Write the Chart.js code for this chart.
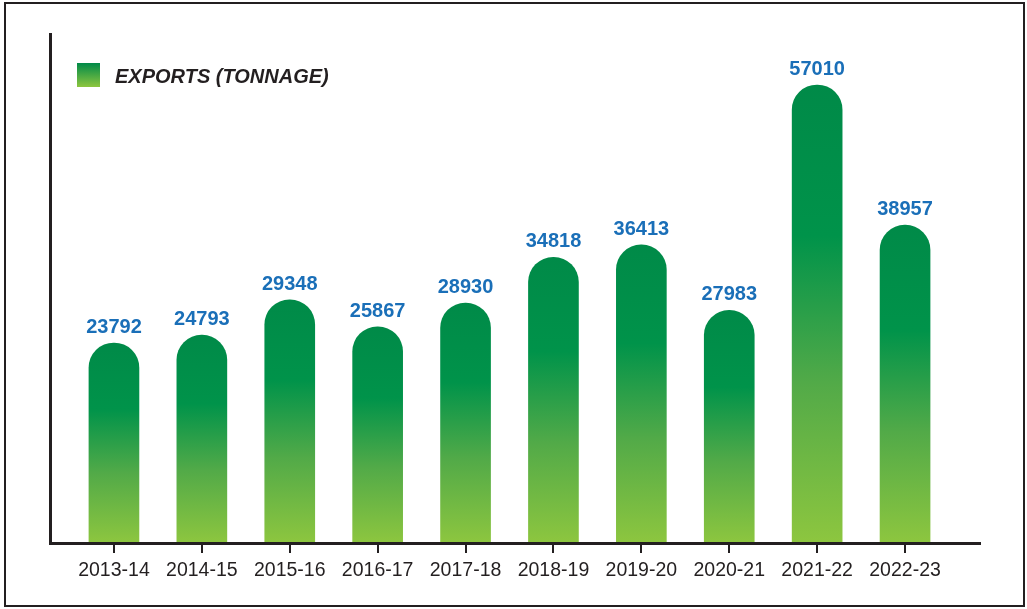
<!DOCTYPE html>
<html lang="en">
<head>
  <meta charset="UTF-8" />
  <title>Exports (Tonnage)</title>
  <script src="https://cdn.jsdelivr.net/npm/chart.js"></script>
  <style>
    html, body { margin: 0; padding: 0; background: #fff; }
    #wrap { position: relative; width: 1027px; height: 609px; }
  </style>
</head>
<body>
  <div id="wrap"><canvas id="exportsChart" width="1027" height="609"></canvas></div>

  <script>
    // Data
    const years = ['2013-14', '2014-15', '2015-16', '2016-17', '2017-18',
                   '2018-19', '2019-20', '2020-21', '2021-22', '2022-23'];
    const exportsTonnage = [23792, 24793, 29348, 25867, 28930, 34818, 36413, 27983, 57010, 38957];
    const seriesLabel = 'EXPORTS (TONNAGE)';

    const Y_MIN = -1960;
    const Y_MAX = 63700;
    const INK = '#231f20';
    const DARK_GREEN = '#008a48';
    const MID_GREEN = '#00934a';
    const LIGHT_GREEN = '#8dc63f';

    // per-bar vertical gradient (dark top -> light bottom)
    function barGradient(ctx) {
      const chart = ctx.chart;
      if (!chart.chartArea || !chart.scales.y) return DARK_GREEN;
      const yScale = chart.scales.y;
      const top = yScale.getPixelForValue(ctx.raw);
      const bottom = yScale.getPixelForValue(Y_MIN);
      const g = chart.ctx.createLinearGradient(0, top, 0, bottom);
      g.addColorStop(0, DARK_GREEN);
      g.addColorStop(0.33, MID_GREEN);
      g.addColorStop(0.65, '#52aa48');
      g.addColorStop(1, LIGHT_GREEN);
      return g;
    }

    // outer frame, axis lines, value labels, legend
    const decorPlugin = {
      id: 'decor',
      beforeDraw(chart) {
        const c = chart.ctx;
        c.save();
        c.strokeStyle = INK;
        c.lineWidth = 2;
        c.strokeRect(5, 3, 1019, 603);
        c.restore();
      },
      afterDatasetsDraw(chart) {
        const c = chart.ctx;
        const area = chart.chartArea;
        c.save();
        // axes
        c.strokeStyle = INK;
        c.lineWidth = 3;
        c.beginPath();
        c.moveTo(50.5, area.top);
        c.lineTo(50.5, area.bottom + 1.5);
        c.moveTo(49, area.bottom + 0.5);
        c.lineTo(981, area.bottom + 0.5);
        c.stroke();

        // value labels
        c.fillStyle = '#1a6fb8';
        c.font = 'bold 20px "Liberation Sans", Arial, sans-serif';
        c.textAlign = 'center';
        c.textBaseline = 'alphabetic';
        chart.getDatasetMeta(0).data.forEach((bar, i) => {
          c.fillText(String(exportsTonnage[i]), bar.x, bar.y - 10);
        });

        // legend
        const g = c.createLinearGradient(0, 63, 0, 87);
        g.addColorStop(0, DARK_GREEN);
        g.addColorStop(1, LIGHT_GREEN);
        c.fillStyle = g;
        c.fillRect(77, 63, 23, 24);
        c.fillStyle = INK;
        c.font = 'italic bold 20px "Liberation Sans", Arial, sans-serif';
        c.textAlign = 'left';
        c.fillText(seriesLabel, 115, 83);
        c.restore();
      }
    };

    new Chart(document.getElementById('exportsChart'), {
      type: 'bar',
      data: {
        labels: years,
        datasets: [{
          label: seriesLabel,
          data: exportsTonnage,
          base: Y_MIN,
          backgroundColor: barGradient,
          borderWidth: 0,
          borderRadius: 25,
          borderSkipped: 'bottom',
          barThickness: 50
        }]
      },
      options: {
        responsive: false,
        animation: false,
        devicePixelRatio: 1,
        layout: { padding: { left: 70, right: 78, top: 33, bottom: 0 } },
        plugins: {
          legend: { display: false },
          tooltip: { enabled: false }
        },
        scales: {
          x: {
            afterFit(scale) { scale.height = 66; },
            border: { display: false },
            grid: {
              display: true,
              offset: false,
              drawOnChartArea: false,
              drawTicks: true,
              tickLength: 10,
              color: INK,
              lineWidth: 2
            },
            ticks: {
              color: INK,
              padding: 6,
              font: { family: '"Liberation Sans", Arial, sans-serif', size: 19.5 }
            }
          },
          y: {
            display: false,
            min: Y_MIN,
            max: Y_MAX
          }
        }
      },
      plugins: [decorPlugin]
    });
  </script>
</body>
</html>
